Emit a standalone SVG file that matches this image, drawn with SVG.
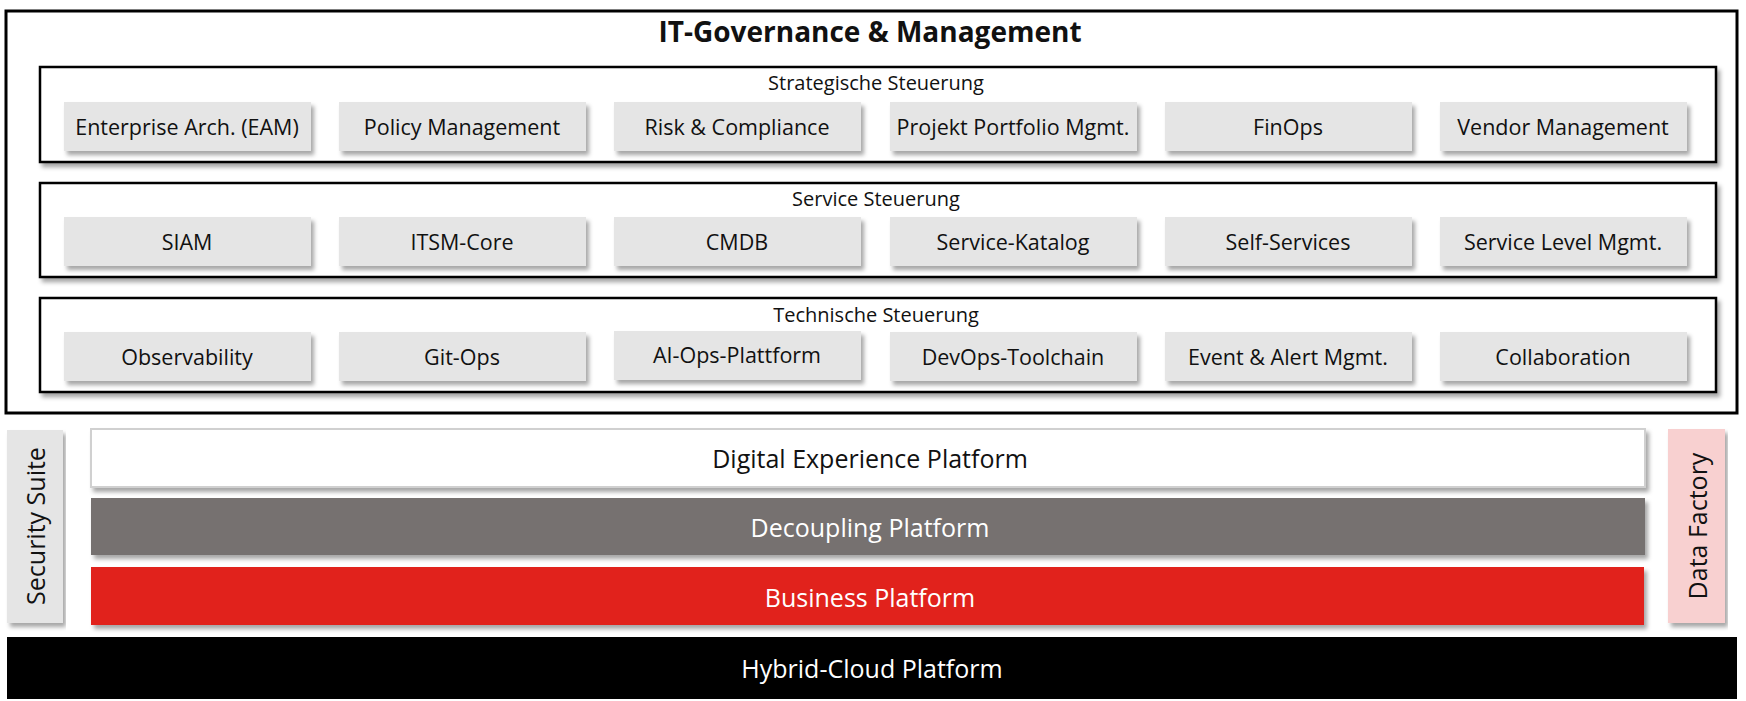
<svg xmlns="http://www.w3.org/2000/svg" width="1746" height="701" viewBox="0 0 1746 701">
<defs>
<filter id="sh" x="-5%" y="-20%" width="110%" height="150%"><feDropShadow dx="3" dy="4" stdDeviation="2" flood-color="#000" flood-opacity="0.35"/></filter>
</defs>
<style>
text{font-family:"Open Sans","Liberation Sans",sans-serif;fill:#111;text-anchor:middle;dominant-baseline:central}
.item rect{fill:#e5e5e5;filter:url(#sh)}
.item text{font-size:21.5px}
.sec{fill:#fff;stroke:#000;stroke-width:2.5;filter:url(#sh)}
.sl{font-size:20px}
.big{font-size:25px}
</style>
<rect width="1746" height="701" fill="#fff"/>
<g id="governance">
<rect x="6" y="11" width="1731" height="402" fill="#fff" stroke="#000" stroke-width="3"/>
<text x="870" y="31" style="font-size:28px;font-weight:bold">IT-Governance &amp; Management</text>
</g>
<g id="strategisch"><rect class="sec" x="40" y="67" width="1676" height="95"/><text class="sl" x="876" y="82">Strategische Steuerung</text></g>
<g id="service"><rect class="sec" x="40" y="183" width="1676" height="94"/><text class="sl" x="876" y="198">Service Steuerung</text></g>
<g id="technisch"><rect class="sec" x="40" y="298" width="1676" height="94"/><text class="sl" x="876" y="314">Technische Steuerung</text></g>
<g class="item" id="eam"><rect x="64" y="102" width="247" height="49"/><text x="187" y="126">Enterprise Arch. (EAM)</text></g>
<g class="item" id="policy"><rect x="339" y="102" width="247" height="49"/><text x="462" y="126">Policy Management</text></g>
<g class="item" id="risk"><rect x="614" y="102" width="247" height="49"/><text x="737" y="126">Risk &amp; Compliance</text></g>
<g class="item" id="ppm"><rect x="890" y="102" width="247" height="49"/><text x="1013" y="126">Projekt Portfolio Mgmt.</text></g>
<g class="item" id="finops"><rect x="1165" y="102" width="247" height="49"/><text x="1288" y="126">FinOps</text></g>
<g class="item" id="vendor"><rect x="1440" y="102" width="247" height="49"/><text x="1563" y="126">Vendor Management</text></g>
<g class="item" id="siam"><rect x="64" y="217" width="247" height="49"/><text x="187" y="241">SIAM</text></g>
<g class="item" id="itsm"><rect x="339" y="217" width="247" height="49"/><text x="462" y="241">ITSM-Core</text></g>
<g class="item" id="cmdb"><rect x="614" y="217" width="247" height="49"/><text x="737" y="241">CMDB</text></g>
<g class="item" id="katalog"><rect x="890" y="217" width="247" height="49"/><text x="1013" y="241">Service-Katalog</text></g>
<g class="item" id="self"><rect x="1165" y="217" width="247" height="49"/><text x="1288" y="241">Self-Services</text></g>
<g class="item" id="slm"><rect x="1440" y="217" width="247" height="49"/><text x="1563" y="241">Service Level Mgmt.</text></g>
<g class="item" id="obs"><rect x="64" y="332" width="247" height="49"/><text x="187" y="356">Observability</text></g>
<g class="item" id="gitops"><rect x="339" y="332" width="247" height="49"/><text x="462" y="356">Git-Ops</text></g>
<g class="item" id="aiops"><rect x="614" y="331" width="247" height="49"/><text x="737" y="354">AI-Ops-Plattform</text></g>
<g class="item" id="devops"><rect x="890" y="332" width="247" height="49"/><text x="1013" y="356">DevOps-Toolchain</text></g>
<g class="item" id="event"><rect x="1165" y="332" width="247" height="49"/><text x="1288" y="356">Event &amp; Alert Mgmt.</text></g>
<g class="item" id="collab"><rect x="1440" y="332" width="247" height="49"/><text x="1563" y="356">Collaboration</text></g>
<g id="security"><rect x="7" y="430" width="56" height="193" fill="#e5e5e5" filter="url(#sh)"/><text class="big" transform="translate(35 526) rotate(-90)">Security Suite</text></g>
<g id="dxp"><rect x="91" y="429" width="1554" height="58" fill="#fff" stroke="#d0d0d0" stroke-width="2" filter="url(#sh)"/><text class="big" x="870" y="458">Digital Experience Platform</text></g>
<g id="decoupling"><rect x="91" y="498" width="1554" height="57" fill="#767170" filter="url(#sh)"/><text class="big" x="870" y="527" style="fill:#fff">Decoupling Platform</text></g>
<g id="business"><rect x="91" y="567" width="1553" height="58" fill="#e1201d" filter="url(#sh)"/><text class="big" x="870" y="597" style="fill:#fff">Business Platform</text></g>
<g id="datafactory"><rect x="1668" y="429" width="57" height="194" fill="#f8d0d0" filter="url(#sh)"/><text class="big" transform="translate(1697 526) rotate(-90)">Data Factory</text></g>
<g id="hybrid"><rect x="7" y="637" width="1730" height="62" fill="#000"/><text class="big" x="872" y="668" style="fill:#fff">Hybrid-Cloud Platform</text></g>
<g id="connectors"/>
</svg>
